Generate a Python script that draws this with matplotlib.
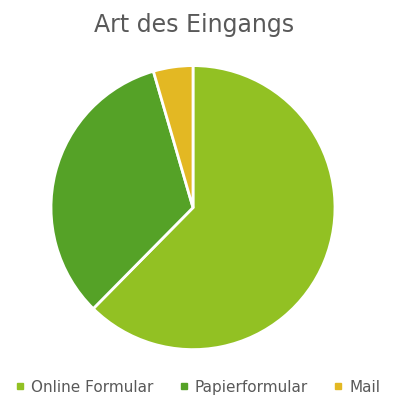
import matplotlib
matplotlib.use("Agg")
import matplotlib.pyplot as plt
from matplotlib.lines import Line2D

categories = ["Online Formular", "Papierformular", "Mail"]
values = [62.4, 33.1, 4.5]
colors = ["#92C123", "#55A227", "#E3B823"]

fig = plt.figure(figsize=(4, 4), dpi=100)
ax = fig.add_axes([0.1275, 0.126, 0.71, 0.71])
ax.pie(values, colors=colors, startangle=90, counterclock=False,
       wedgeprops=dict(edgecolor="white", linewidth=2))
ax.set_aspect("equal")
ax.set_xlim(-1.0, 1.0)
ax.set_ylim(-1.0, 1.0)

fig.text(0.485, 0.937, "Art des Eingangs", ha="center", va="center",
         fontsize=17, color="#595959")

handles = [Line2D([0], [0], marker="s", linestyle="none", markersize=4.5,
                  markerfacecolor=c, markeredgecolor=c) for c in colors]
fig.legend(handles, categories, loc="center", bbox_to_anchor=(0.493, 0.032),
           ncol=3, frameon=False, fontsize=11, labelcolor="#595959",
           handletextpad=0.3, columnspacing=1.6, handlelength=0.8)

fig.savefig("out.png", dpi=100)
